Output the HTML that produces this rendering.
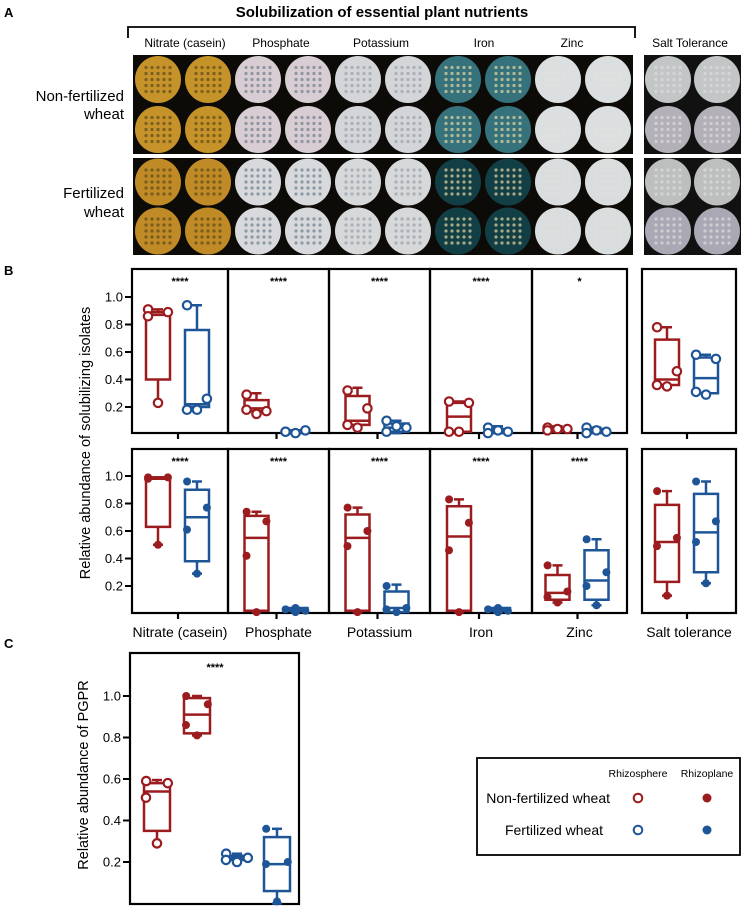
<!DOCTYPE html>
<html><head><meta charset="utf-8">
<style>
html,body{margin:0;padding:0;background:#fff;}
svg{display:block;font-family:"Liberation Sans",Arial,sans-serif;}
</style></head>
<body>
<svg id="fig" width="742" height="908" viewBox="0 0 742 908">
<text x="4" y="17" font-size="13" font-weight="bold">A</text>
<text x="382" y="17" font-size="15" font-weight="bold" text-anchor="middle">Solubilization of essential plant nutrients</text>
<path d="M128,38 V27 H635 V38" fill="none" stroke="#000" stroke-width="1.8"/>
<g font-size="12" text-anchor="middle">
<text x="185" y="47">Nitrate (casein)</text><text x="281" y="47">Phosphate</text><text x="381" y="47">Potassium</text><text x="484" y="47">Iron</text><text x="572" y="47">Zinc</text><text x="690" y="47">Salt Tolerance</text>
</g>
<g font-size="15" text-anchor="end">
<text x="124" y="101">Non-fertilized</text><text x="124" y="119">wheat</text>
<text x="124" y="198">Fertilized</text><text x="124" y="217">wheat</text>
</g>
<g id="photos"></g>
<text x="4" y="275" font-size="13" font-weight="bold">B</text>
<text transform="translate(90,443) rotate(-90)" font-size="14.5" text-anchor="middle">Relative abundance of solubilizing isolates</text>
<g id="panelB"></g>
<text x="4" y="648" font-size="13" font-weight="bold">C</text>
<text transform="translate(88,775) rotate(-90)" font-size="14.5" text-anchor="middle">Relative abundance of PGPR</text>
<g id="panelC"></g>
<g>
<rect x="477" y="758" width="263" height="97" fill="#fff" stroke="#000" stroke-width="1.8"/>
<text x="638" y="777" font-size="10.5" text-anchor="middle">Rhizosphere</text>
<text x="707" y="777" font-size="10.5" text-anchor="middle">Rhizoplane</text>
<text x="610" y="803" font-size="14" text-anchor="end">Non-fertilized wheat</text>
<text x="603" y="835" font-size="14" text-anchor="end">Fertilized wheat</text>
<circle cx="638" cy="798" r="4.3" fill="#fff" stroke="#9b1b1e" stroke-width="2"/>
<circle cx="707" cy="798" r="4.5" fill="#9b1b1e"/>
<circle cx="638" cy="830" r="4.3" fill="#fff" stroke="#1e5597" stroke-width="2"/>
<circle cx="707" cy="830" r="4.5" fill="#1e5597"/>
</g>
</svg>
<script>
const NS="http://www.w3.org/2000/svg";
const RED="#9b1b1e", BLUE="#1e5597";
// ---- Panel B data ----
const categories=["Nitrate (casein)","Phosphate","Potassium","Iron","Zinc","Salt tolerance"];
const starsTop=["****","****","****","****","*",""];
const starsBottom=["****","****","****","****","****",""];
// top row (rhizosphere, hollow): [min,q1,median,q3,max]
const topRed=[[0.23,0.40,0.87,0.89,0.91],[0.15,0.17,0.19,0.25,0.30],[0.05,0.07,0.10,0.28,0.34],[0.02,0.02,0.13,0.23,0.24],[0.02,0.03,0.04,0.05,0.06],[0.34,0.36,0.40,0.69,0.78]];
const topRedPts=[[0.91,0.89,0.86,0.23],[0.29,0.17,0.18,0.15],[0.32,0.19,0.07,0.05],[0.24,0.23,0.02,0.02],[0.05,0.04,0.03,0.04],[0.78,0.46,0.36,0.35]];
const topBlue=[[0.17,0.20,0.22,0.76,0.94],[0.01,0.01,0.02,0.03,0.03],[0.01,0.02,0.05,0.08,0.10],[0.01,0.01,0.03,0.04,0.06],[0.01,0.02,0.03,0.04,0.05],[0.29,0.30,0.41,0.56,0.58]];
const topBluePts=[[0.94,0.26,0.18,0.18],[0.02,0.03,0.02,0.01],[0.10,0.05,0.02,0.06],[0.05,0.02,0.01,0.03],[0.05,0.02,0.01,0.03],[0.58,0.55,0.31,0.29]];
// bottom row (rhizoplane, filled)
const botRed=[[0.50,0.63,0.98,0.99,0.99],[0.01,0.02,0.55,0.71,0.74],[0.01,0.02,0.55,0.72,0.77],[0.01,0.02,0.56,0.78,0.83],[0.08,0.10,0.15,0.28,0.35],[0.13,0.23,0.52,0.79,0.89]];
const botRedPts=[[0.99,0.99,0.98,0.50],[0.74,0.67,0.42,0.01],[0.77,0.60,0.49,0.01],[0.83,0.66,0.46,0.01],[0.35,0.16,0.12,0.08],[0.89,0.55,0.49,0.13]];
const botBlue=[[0.29,0.38,0.70,0.90,0.96],[0.01,0.02,0.03,0.04,0.04],[0.01,0.01,0.04,0.16,0.21],[0.01,0.02,0.03,0.04,0.04],[0.06,0.10,0.24,0.46,0.54],[0.22,0.30,0.59,0.87,0.96]];
const botBluePts=[[0.96,0.77,0.61,0.29],[0.03,0.02,0.04,0.01],[0.20,0.04,0.03,0.01],[0.03,0.02,0.04,0.01],[0.54,0.30,0.20,0.06],[0.96,0.67,0.52,0.22]];
const yTicks=[0.2,0.4,0.6,0.8,1.0];
const yTickLabels=["0.2","0.4","0.6","0.8","1.0"];
// ---- Panel C data ----
const pgprBoxes=[[0.29,0.35,0.54,0.58,0.595],[0.81,0.82,0.91,0.99,1.0],[0.20,0.21,0.22,0.23,0.24],[0.0,0.06,0.19,0.32,0.36]];
const pgprPts=[[0.59,0.58,0.51,0.29],[1.0,0.96,0.86,0.81],[0.24,0.22,0.21,0.20],[0.36,0.20,0.19,0.01]];
const pgprColors=[RED,RED,BLUE,BLUE];
const pgprFilled=[false,true,false,true];

function mk(tag,attrs,parent){const e=document.createElementNS(NS,tag);for(const k in attrs)e.setAttribute(k,attrs[k]);parent.appendChild(e);return e;}

// photos
const photos=document.getElementById('photos');
mk('rect',{x:133,y:55,width:500,height:99,fill:'#0d0b08'},photos);
mk('rect',{x:133,y:158,width:500,height:97,fill:'#0d0b08'},photos);
mk('rect',{x:644,y:55,width:97,height:99,fill:'#111'},photos);
mk('rect',{x:644,y:158,width:97,height:97,fill:'#111'},photos);
const plateTop=["#c6922a","#d9cdd4","#d3d5d8","#36727c","#dcdfdf"];
const plateBot=["#c08a26","#d7d9dc","#d6d8da","#123f46","#dadddd"];
const dotCol=["#5a4a1a","#6f7f8a","#9aa0a8","#e8d7a0","#e0e0e0"];
function plate(cx,cy,col,dc,g){
  mk('ellipse',{cx:cx,cy:cy,rx:23,ry:23.5,fill:col},g);
  for(let i=0;i<5;i++)for(let j=0;j<5;j++){
    mk('circle',{cx:cx-12+j*6,cy:cy-12+i*6,r:1.6,fill:dc,opacity:0.7},g);
  }
}
for(let c=0;c<5;c++){for(let k=0;k<2;k++){const cx=158+100*c+50*k;
  plate(cx,79.5,plateTop[c],dotCol[c],photos);plate(cx,129.5,plateTop[c],dotCol[c],photos);
  plate(cx,182,plateBot[c],dotCol[c],photos);plate(cx,231,plateBot[c],dotCol[c],photos);}}
for(let k=0;k<2;k++){const cx=668+49*k;
  plate(cx,79.5,"#c2c6c6","#ddd",photos);plate(cx,129.5,"#b3b0b8","#ddd",photos);
  plate(cx,182,"#bcbfbe","#ddd",photos);plate(cx,231,"#aaa8b4","#ddd",photos);}

// Panel B
const B=document.getElementById('panelB');
const panelsX=[[132,228],[228,329],[329,430],[430,532],[532,627],[642,736]];
const rows=[{top:269,bot:433,zero:434.5,boxesR:topRed,ptsR:topRedPts,boxesB:topBlue,ptsB:topBluePts,filled:false,stars:starsTop},
            {top:449,bot:613,zero:613.5,boxesR:botRed,ptsR:botRedPts,boxesB:botBlue,ptsB:botBluePts,filled:true,stars:starsBottom}];
const scaleB=137.5;
function drawBox(g,cx,stats,pts,color,filled,yf,w){
  const [mn,q1,md,q3,mx]=stats;
  mk('line',{x1:cx,x2:cx,y1:yf(mx),y2:yf(q3),stroke:color,'stroke-width':2.5},g);
  mk('line',{x1:cx,x2:cx,y1:yf(q1),y2:yf(mn),stroke:color,'stroke-width':2.5},g);
  mk('line',{x1:cx-5,x2:cx+5,y1:yf(mx),y2:yf(mx),stroke:color,'stroke-width':2.5},g);
  mk('line',{x1:cx-5,x2:cx+5,y1:yf(mn),y2:yf(mn),stroke:color,'stroke-width':2.5},g);
  const r=mk('rect',{x:cx-w/2,y:yf(q3),width:w,height:Math.max(0.5,yf(q1)-yf(q3)),fill:'none',stroke:color,'stroke-width':2.5},g);
  
  
  mk('line',{x1:cx-w/2,x2:cx+w/2,y1:yf(md),y2:yf(md),stroke:color,'stroke-width':2.5},g);
  const off=[-w/2+1,w/2-1,0,0];
  pts.forEach((v,i)=>{
    const c=mk('circle',{cx:cx+(i<2?off[i]*0.9:(i===2?(v>md?0:-w/2+2):0)),cy:yf(v),r:filled?4:4.2,fill:filled?color:'#fff',stroke:color,'stroke-width':filled?0:2.2},g);
    
    
  });
}
rows.forEach((row,ri)=>{
  const yf=v=>row.zero-v*scaleB;
  panelsX.forEach((px,pi)=>{
    const g=mk('g',{},B);
    
    
    const c=(px[0]+px[1])/2;
    mk('rect',{x:px[0],y:row.top,width:px[1]-px[0],height:row.bot-row.top,fill:'none',stroke:'#000','stroke-width':2.2},g);
    mk('line',{x1:c-2,x2:c-2,y1:row.bot,y2:row.bot+6,stroke:'#000','stroke-width':2.2},g);
    if(row.stars[pi]){const t=mk('text',{x:c,y:row.top+16,'font-size':11,'font-weight':'bold','text-anchor':'middle'},g);t.textContent=row.stars[pi];
      
      }
    drawBox(g,c-22,row.boxesR[pi],row.ptsR[pi],RED,row.filled,yf,24);
    drawBox(g,c+17,row.boxesB[pi],row.ptsB[pi],BLUE,row.filled,yf,24);
  });
  yTicks.forEach((v,i)=>{
    mk('line',{x1:125,x2:132,y1:yf(v),y2:yf(v),stroke:'#000','stroke-width':2},B);
    const t=mk('text',{x:123,y:yf(v)+4.5,'font-size':13,'text-anchor':'end'},B);t.textContent=yTickLabels[i];
    
    
  });
});
categories.forEach((cat,i)=>{
  const c=(panelsX[i][0]+panelsX[i][1])/2;
  const t=mk('text',{x:c,y:637,'font-size':14,'text-anchor':'middle'},B);t.textContent=cat;
  
  
});

// Panel C
const C=document.getElementById('panelC');
const yC=v=>903.5-v*207.5;
mk('rect',{x:130,y:653,width:169,height:251,fill:'none',stroke:'#000','stroke-width':2.2},C);
const st=mk('text',{x:215,y:671,'font-size':11,'font-weight':'bold','text-anchor':'middle'},C);st.textContent="****";


yTicks.forEach((v,i)=>{
  mk('line',{x1:123,x2:130,y1:yC(v),y2:yC(v),stroke:'#000','stroke-width':2},C);
  const t=mk('text',{x:121,y:yC(v)+4.5,'font-size':13,'text-anchor':'end'},C);t.textContent=yTickLabels[i];
  
  
});
pgprBoxes.forEach((b,i)=>{
  const g=mk('g',{},C);
  
  
  drawBox(g,157+40*i,b,pgprPts[i],pgprColors[i],pgprFilled[i],yC,26);
});
</script>
</body></html>
